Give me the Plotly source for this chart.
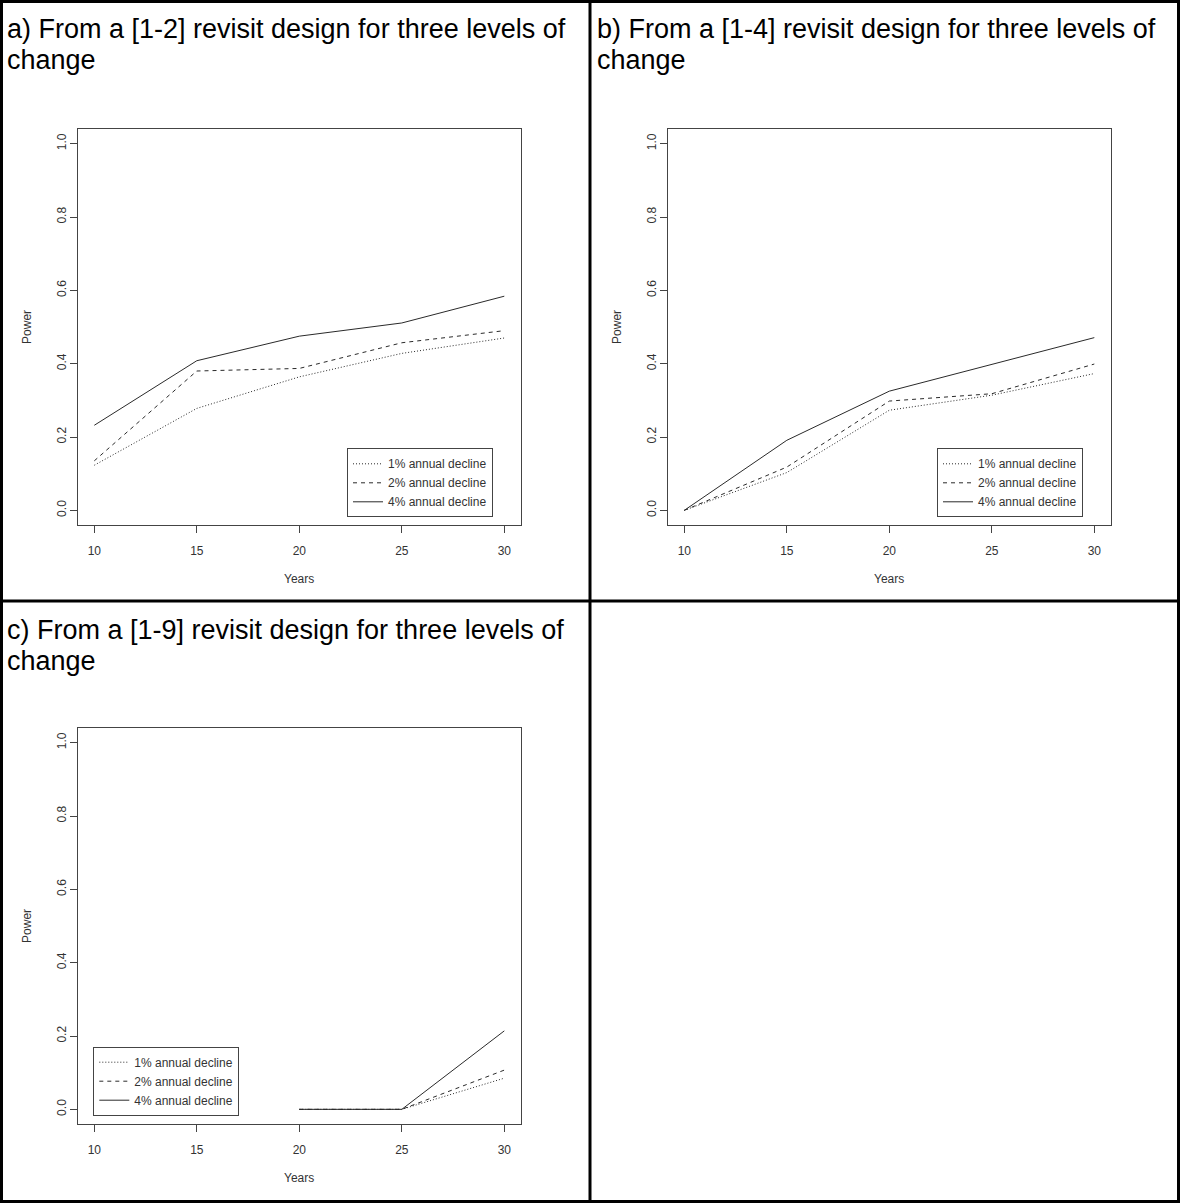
import plotly.graph_objects as go

W, H = 1180, 1203

# ---------------- data ----------------
years = [10, 15, 20, 25, 30]
years_c = [20, 25, 30]

a_decline_1 = [0.123, 0.278, 0.364, 0.428, 0.470]
a_decline_2 = [0.135, 0.380, 0.387, 0.457, 0.490]
a_decline_4 = [0.232, 0.408, 0.475, 0.511, 0.584]

b_decline_1 = [0.0, 0.103, 0.273, 0.314, 0.373]
b_decline_2 = [0.0, 0.118, 0.298, 0.318, 0.399]
b_decline_4 = [0.0, 0.191, 0.325, 0.398, 0.471]

c_decline_1 = [0.0, 0.0, 0.085]
c_decline_2 = [0.0, 0.0, 0.107]
c_decline_4 = [0.0, 0.0, 0.214]

series_names = ["1% annual decline", "2% annual decline", "4% annual decline"]
x_ticks = [10, 15, 20, 25, 30]
y_ticks = [0.0, 0.2, 0.4, 0.6, 0.8, 1.0]

titles = [
    ["a) From a [1-2] revisit design for three levels of", "change"],
    ["b) From a [1-4] revisit design for three levels of", "change"],
    ["c) From a [1-9] revisit design for three levels of", "change"],
]

# ---------------- helpers ----------------
def fx(x):
    return x / W

def fy(y):
    return 1 - y / H

FONT = "Liberation Sans, Arial, sans-serif"
LINE_COL = "#444444"
DATA_COL = "#2a2a2a"
TEXT_COL = "#333333"
dashes = ["1px,2px", "4px,4px", "solid"]

fig = go.Figure()

panels = [
    dict(x=years, ys=[a_decline_1, a_decline_2, a_decline_4], box=(77.9, 129, 520.7, 525),
         yr=[-0.04, 1.04], legend="legend", xa="x", ya="y"),
    dict(x=years, ys=[b_decline_1, b_decline_2, b_decline_4], box=(667.9, 129, 1110.7, 525),
         yr=[-0.04, 1.04], legend="legend2", xa="x2", ya="y2"),
    dict(x=years_c, ys=[c_decline_1, c_decline_2, c_decline_4], box=(77.9, 728, 520.7, 1124),
         yr=[-0.04, 1.04], legend="legend3", xa="x3", ya="y3"),
]

axis_common = dict(
    showline=True, mirror=True, linecolor=LINE_COL, linewidth=1,
    ticks="outside", ticklen=7, tickwidth=1, tickcolor=LINE_COL,
    showgrid=False, zeroline=False, automargin=False,
    tickfont=dict(family=FONT, size=12, color=TEXT_COL),
)

layout_axes = {}
for i, p in enumerate(panels):
    for name, ys, dash in zip(series_names, p["ys"], dashes):
        fig.add_trace(go.Scatter(
            x=p["x"], y=ys, mode="lines", name=name,
            line=dict(color=DATA_COL, width=1, dash=dash),
            xaxis=p["xa"], yaxis=p["ya"], legend=p["legend"],
        ))
    x0, y0, x1, y1 = p["box"]
    suffix = "" if i == 0 else str(i + 1)
    layout_axes["xaxis" + suffix] = dict(
        axis_common, domain=[fx(x0), fx(x1)], range=[9.2, 30.8],
        tickvals=x_ticks, anchor="y" + suffix, ticklabelstandoff=8,
    )
    layout_axes["yaxis" + suffix] = dict(
        axis_common, domain=[fy(y1), fy(y0)], range=p["yr"],
        tickvals=y_ticks, tickformat=".1f", tickangle=-90,
        anchor="x" + suffix, ticklabelstandoff=-1,
    )

fig.update_layout(**layout_axes)

# legends
legend_common = dict(
    bgcolor="white", bordercolor=LINE_COL, borderwidth=1,
    font=dict(family=FONT, size=12, color=TEXT_COL),
    itemwidth=30, tracegroupgap=0, orientation="v",
)
fig.update_layout(
    legend=dict(legend_common, x=fx(493), y=fy(517.3), xanchor="right", yanchor="bottom"),
    legend2=dict(legend_common, x=fx(1083), y=fy(517.3), xanchor="right", yanchor="bottom"),
    legend3=dict(legend_common, x=fx(93.3), y=fy(1115.7), xanchor="left", yanchor="bottom"),
)

annotations = []
# panel titles
title_pos = [(4.6, 0), (594.6, 0), (4.6, 601)]
for (tx, ty), lines in zip(title_pos, titles):
    for k, line in enumerate(lines):
        annotations.append(dict(
            x=fx(tx), y=fy(ty + 29 + 31 * k), xref="paper", yref="paper",
            text=line, showarrow=False, xanchor="left", yanchor="middle",
            font=dict(family=FONT, size=27, color="black"),
        ))
# axis titles
for p in panels:
    x0, y0, x1, y1 = p["box"]
    annotations.append(dict(
        x=fx(x0 - 51), y=fy((y0 + y1) / 2), xref="paper", yref="paper",
        text="Power", showarrow=False, textangle=-90,
        xanchor="center", yanchor="middle",
        font=dict(family=FONT, size=12, color=TEXT_COL),
    ))
    annotations.append(dict(
        x=fx((x0 + x1) / 2), y=fy(y1 + 54), xref="paper", yref="paper",
        text="Years", showarrow=False, xanchor="center", yanchor="middle",
        font=dict(family=FONT, size=12, color=TEXT_COL),
    ))

# table borders
shapes = []
def hline(y, x0=0, x1=W, w=3):
    shapes.append(dict(type="line", xref="paper", yref="paper",
                       x0=fx(x0), x1=fx(x1), y0=fy(y), y1=fy(y),
                       line=dict(color="black", width=w)))
def vline(x, y0=0, y1=H, w=3):
    shapes.append(dict(type="line", xref="paper", yref="paper",
                       x0=fx(x), x1=fx(x), y0=fy(y0), y1=fy(y1),
                       line=dict(color="black", width=w)))
hline(1.5)
hline(H - 1.5)
hline(601)
vline(1.5)
vline(W - 1.5)
vline(590)

fig.update_layout(
    width=W, height=H,
    margin=dict(l=0, r=0, t=0, b=0),
    paper_bgcolor="white", plot_bgcolor="white",
    showlegend=True,
    annotations=annotations,
    shapes=shapes,
    font=dict(family=FONT, color=TEXT_COL),
)

fig.write_html("out.html")
